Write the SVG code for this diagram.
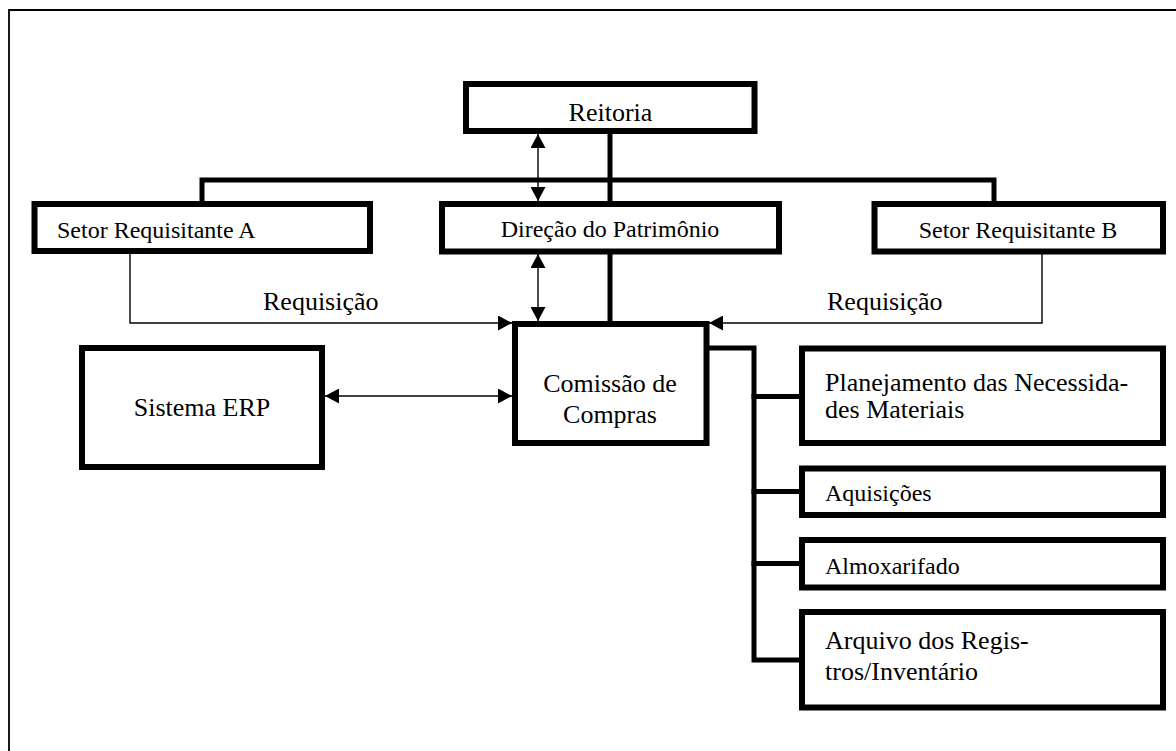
<svg xmlns="http://www.w3.org/2000/svg" width="1176" height="751" viewBox="0 0 1176 751">
  <style>
    .box { fill: #fff; stroke: #000; stroke-width: 6; }
    .bar { fill: none; stroke: #000; stroke-width: 5; stroke-linecap: square; }
    .thin { fill: none; stroke: #000; stroke-width: 1.4; }
    .frame { fill: none; stroke: #000; stroke-width: 1.8; }
    text { font-family: "Liberation Serif", "Times New Roman", serif; fill: #000; }
    .lg { font-size: 26px; }
    .sm { font-size: 24px; }
    .mid { text-anchor: middle; }
  </style>
  <defs>
    <marker id="arrow" markerUnits="userSpaceOnUse" markerWidth="14" markerHeight="15" refX="14" refY="7.5" orient="auto-start-reverse">
      <path d="M0,0 L14,7.5 L0,15 z" fill="#000"/>
    </marker>
  </defs>

  <rect width="1176" height="751" fill="#fff"/>
  <!-- page frame -->
  <path class="frame" d="M9,751 V10 H1176"/>

  <g id="connectors">
    <!-- hierarchy bus -->
    <path class="bar" d="M202,201 V180 H994 V201"/>
    <path class="bar" d="M610,134 V201"/>
    <path class="bar" d="M610,254 V321"/>
    <!-- Comissão to its departments -->
    <path class="bar" d="M709,348 H754 V660 H799"/>
    <path class="bar" d="M754,396.5 H799"/>
    <path class="bar" d="M754,491.5 H799"/>
    <path class="bar" d="M754,563.5 H799"/>
    <!-- two-way links -->
    <line class="thin" x1="538" y1="134" x2="538" y2="201" marker-start="url(#arrow)" marker-end="url(#arrow)"/>
    <line class="thin" x1="538" y1="254" x2="538" y2="321" marker-start="url(#arrow)" marker-end="url(#arrow)"/>
    <line class="thin" x1="325" y1="396" x2="512" y2="396" marker-start="url(#arrow)" marker-end="url(#arrow)"/>
    <!-- requisitions -->
    <path class="thin" d="M130,254 V323 H512" marker-end="url(#arrow)"/>
    <path class="thin" d="M1042,254 V323 H709" marker-end="url(#arrow)"/>
  </g>

  <g id="reitoria">
    <rect class="box" x="466" y="84" width="288.5" height="47"/>
    <text class="lg mid" x="610.5" y="121">Reitoria</text>
  </g>
  <g id="setor-a">
    <rect class="box" x="34.5" y="204" width="335.5" height="47"/>
    <text class="sm" x="57" y="238">Setor Requisitante A</text>
  </g>
  <g id="direcao">
    <rect class="box" x="442" y="204" width="337" height="47.5"/>
    <text class="sm mid" x="610" y="237">Direção do Patrimônio</text>
  </g>
  <g id="setor-b">
    <rect class="box" x="874.5" y="204" width="288.5" height="47.5"/>
    <text class="sm mid" x="1018" y="238">Setor Requisitante B</text>
  </g>
  <g id="label-req-a">
    <text class="lg" x="263" y="310">Requisição</text>
  </g>
  <g id="label-req-b">
    <text class="lg" x="827" y="309.5">Requisição</text>
  </g>
  <g id="erp">
    <rect class="box" x="82" y="348" width="240" height="119"/>
    <text class="lg mid" x="202" y="416">Sistema ERP</text>
  </g>
  <g id="comissao">
    <rect class="box" x="515" y="324" width="191.5" height="119"/>
    <text class="lg mid" x="610" y="392">Comissão de</text>
    <text class="lg mid" x="610" y="423">Compras</text>
  </g>
  <g id="planejamento">
    <rect class="box" x="802" y="348.5" width="361" height="94.5"/>
    <text class="lg" x="825" y="390.5">Planejamento das Necessida-</text>
    <text class="lg" x="825" y="418">des Materiais</text>
  </g>
  <g id="aquisicoes">
    <rect class="box" x="802" y="468.5" width="361" height="46.5"/>
    <text class="sm" x="825" y="501">Aquisições</text>
  </g>
  <g id="almoxarifado">
    <rect class="box" x="802" y="540" width="361" height="47.5"/>
    <text class="sm" x="825" y="573.5">Almoxarifado</text>
  </g>
  <g id="arquivo">
    <rect class="box" x="802" y="612" width="361" height="95.5"/>
    <text class="lg" x="825" y="648.5">Arquivo dos Regis-</text>
    <text class="lg" x="825" y="680">tros/Inventário</text>
  </g>
</svg>
